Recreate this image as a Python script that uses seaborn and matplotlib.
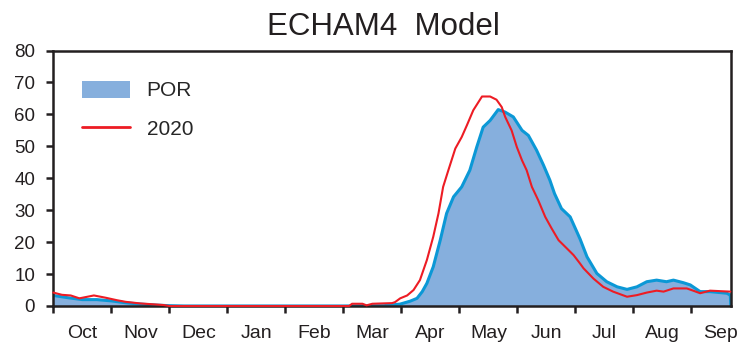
import matplotlib
matplotlib.use("Agg")
import matplotlib.pyplot as plt
from matplotlib.patches import Patch
from matplotlib.lines import Line2D
import pandas as pd
import seaborn as sns

# Water-year months (x position = months since 1 Oct)
months = ["Oct", "Nov", "Dec", "Jan", "Feb", "Mar",
          "Apr", "May", "Jun", "Jul", "Aug", "Sep"]

# Period-of-record climatology
por_x = [0.0, 0.25, 0.5, 0.75, 1.0, 1.25, 1.5, 1.75, 2.0, 2.25, 5.0, 5.7,
         5.98, 6.15, 6.27, 6.36, 6.44, 6.55, 6.67, 6.78, 6.90, 7.04, 7.18,
         7.30, 7.41, 7.53, 7.67, 7.79, 7.93, 8.08, 8.19, 8.33, 8.45, 8.56,
         8.64, 8.76, 8.91, 9.08, 9.20, 9.37, 9.54, 9.72, 9.89, 10.06, 10.23,
         10.40, 10.57, 10.69, 10.86, 10.98, 11.15, 11.32, 11.61, 11.67, 11.68]
por_y = [3.3, 2.6, 2.0, 2.0, 1.6, 1.0, 0.6, 0.3, 0.1, 0.0, 0.0, 0.1,
         0.6, 1.5, 2.4, 4.5, 7.1, 12.3, 20.6, 29.0, 34.2, 37.3, 42.5,
         49.8, 56.0, 58.1, 61.5, 60.7, 59.2, 55.0, 53.4, 48.8, 44.1, 39.4,
         35.2, 30.5, 27.9, 21.0, 15.4, 10.2, 7.6, 6.0, 5.2, 6.0, 7.6,
         8.1, 7.6, 8.1, 7.3, 6.6, 4.5, 4.5, 4.0, 3.4, 0.0]

# Water year 2020
y2020_x = [0.0, 0.15, 0.3, 0.45, 0.7, 0.9, 1.1, 1.25, 1.5, 1.75, 1.9, 2.0,
           5.1, 5.15, 5.33, 5.4, 5.5, 5.84, 5.89, 5.98, 6.1, 6.21, 6.32,
           6.44, 6.55, 6.64, 6.72, 6.81, 6.93, 7.04, 7.13, 7.24, 7.39, 7.53,
           7.64, 7.73, 7.79, 7.90, 7.99, 8.08, 8.16, 8.25, 8.36, 8.48, 8.59,
           8.71, 8.91, 8.97, 9.08, 9.14, 9.31, 9.48, 9.65, 9.89, 10.06, 10.23,
           10.40, 10.52, 10.69, 10.92, 11.03, 11.15, 11.32, 11.67]
y2020_y = [4.2, 3.5, 3.3, 2.4, 3.3, 2.6, 1.8, 1.3, 0.8, 0.5, 0.3, 0.0,
           0.0, 0.7, 0.7, 0.2, 0.7, 0.9, 1.2, 2.4, 3.3, 5.0, 8.1,
           14.4, 21.7, 29.0, 37.3, 42.5, 49.3, 52.9, 56.6, 61.3, 65.6, 65.6,
           64.6, 62.3, 59.2, 55.0, 49.8, 45.6, 42.5, 37.3, 33.1, 27.9, 24.3,
           20.6, 17.0, 15.9, 13.3, 11.8, 8.6, 6.0, 4.5, 2.9, 3.4, 4.2,
           4.8, 4.5, 5.5, 5.5, 4.8, 4.0, 4.8, 4.5]

y_ticks = [0, 10, 20, 30, 40, 50, 60, 70, 80]

fill_color = "#86afdd"
por_line = "#0b98d6"
red = "#ed1c24"
ink = "#231f20"

sns.set_style("ticks")
plt.rcParams["font.family"] = ["Liberation Sans", "DejaVu Sans"]

por = pd.DataFrame({"x": por_x, "y": por_y})
wy = pd.DataFrame({"x": y2020_x, "y": y2020_y})

fig = plt.figure(figsize=(7.39, 3.52), dpi=100)
ax = fig.add_axes([0.0721, 0.1307, 0.9169, 0.7258])

ax.fill_between(por["x"], 0, por["y"], color=fill_color, linewidth=0, zorder=1)
sns.lineplot(data=por, x="x", y="y", sort=False, color=por_line,
             linewidth=2.2, ax=ax, zorder=2)
sns.lineplot(data=wy, x="x", y="y", sort=False, color=red,
             linewidth=1.5, ax=ax, zorder=4, clip_on=False)

ax.set_xlim(0, 11.68)
ax.set_ylim(0, 80)
ax.set_yticks(y_ticks)
ax.set_xticks(range(12))
ax.set_xticklabels([])
ax.set_xticks([i + 0.5 for i in range(12)], minor=True)
ax.set_xticklabels(months, minor=True, fontsize=14)
ax.tick_params(axis="x", which="major", length=5, width=1.8, color=ink,
               direction="out")
ax.tick_params(axis="x", which="minor", length=0, pad=14, labelcolor=ink)
ax.tick_params(axis="y", length=5, width=1.8, color=ink, pad=8,
               labelsize=13.5, labelcolor=ink)
ax.set_xlabel("")
ax.set_ylabel("")
for s in ax.spines.values():
    s.set_linewidth(1.8)
    s.set_color(ink)
    s.set_visible(True)

ax.set_title("ECHAM4  Model", fontsize=22.5, color=ink, pad=11, x=0.487)

handles = [Patch(facecolor=fill_color, edgecolor="none", label="POR"),
           Line2D([], [], color=red, linewidth=2, label="2020")]
ax.legend(handles=handles, loc="upper left", bbox_to_anchor=(0.03, 0.915),
          frameon=False, fontsize=15, handlelength=2.3, handleheight=0.9,
          handletextpad=0.8, labelspacing=0.9, borderaxespad=0)

fig.savefig("out.png", dpi=100)
